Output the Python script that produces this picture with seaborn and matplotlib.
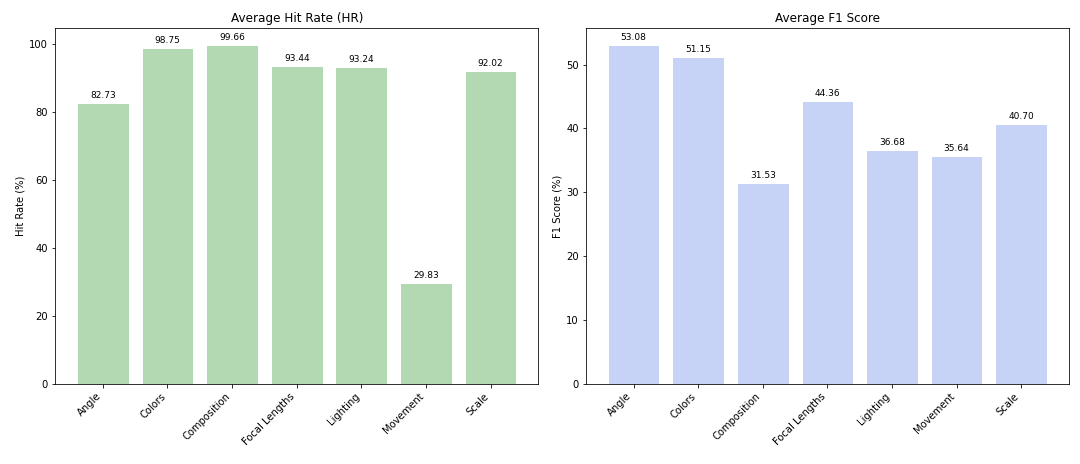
import matplotlib
matplotlib.use("Agg")
import matplotlib.pyplot as plt
import seaborn as sns
import pandas as pd

categories = ["Angle", "Colors", "Composition", "Focal Lengths", "Lighting", "Movement", "Scale"]
hit_rate = [82.73, 98.75, 99.66, 93.44, 93.24, 29.83, 92.02]
f1_score = [53.08, 51.15, 31.53, 44.36, 36.68, 35.64, 40.70]

df = pd.DataFrame({"category": categories, "hr": hit_rate, "f1": f1_score})

plt.rcParams["font.family"] = ["DejaVu Sans"]

fig, axes = plt.subplots(1, 2, figsize=(15, 464 / 72), dpi=72)

panels = [
    ("hr", "#b3d9b3", "Average Hit Rate (HR)", "Hit Rate (%)"),
    ("f1", "#c6d2f6", "Average F1 Score", "F1 Score (%)"),
]

for ax, (col, color, title, ylabel) in zip(axes, panels):
    sns.barplot(data=df, x="category", y=col, color=color, saturation=1,
                edgecolor="white", linewidth=1, width=0.8, ax=ax)
    ax.set_xlim(-0.74, 6.74)
    ax.set_title(title, fontsize=12)
    ax.set_xlabel("")
    ax.set_ylabel(ylabel, fontsize=10)
    ax.tick_params(axis="both", labelsize=10)
    plt.setp(ax.get_xticklabels(), rotation=45, ha="right")
    for bar, v in zip(ax.patches, df[col]):
        ax.annotate(f"{v:.2f}", (bar.get_x() + bar.get_width() / 2, bar.get_height()),
                    xytext=(0, 3), textcoords="offset points",
                    ha="center", va="bottom", fontsize=9)

plt.subplots_adjust(left=0.051, right=0.9898, top=0.9397, bottom=0.1724, wspace=0.098)
plt.savefig("out.png")
